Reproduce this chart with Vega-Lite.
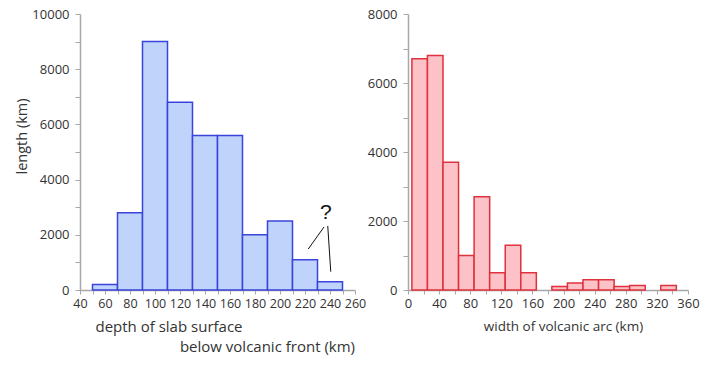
{
  "$schema": "https://vega.github.io/schema/vega-lite/v6.json",
  "background": "white",
  "padding": {"left": 14, "top": 8, "right": 5, "bottom": 5},
  "config": {
    "font": "Open Sans",
    "view": {"stroke": null},
    "axis": {
      "grid": false,
      "domainColor": "#a8a8a8",
      "domainWidth": 1.5,
      "tickColor": "#a8a8a8",
      "tickWidth": 1,
      "labelFont": "Open Sans",
      "labelFontSize": 13,
      "labelColor": "#333333",
      "titleFont": "Open Sans",
      "titleFontWeight": "normal",
      "titleColor": "#333333"
    }
  },
  "datasets": {
    "depth": [
      {"d0": 50, "d1": 70, "length": 200},
      {"d0": 70, "d1": 90, "length": 2800},
      {"d0": 90, "d1": 110, "length": 9000},
      {"d0": 110, "d1": 130, "length": 6800},
      {"d0": 130, "d1": 150, "length": 5600},
      {"d0": 150, "d1": 170, "length": 5600},
      {"d0": 170, "d1": 190, "length": 2000},
      {"d0": 190, "d1": 210, "length": 2500},
      {"d0": 210, "d1": 230, "length": 1100},
      {"d0": 230, "d1": 250, "length": 300}
    ],
    "pointers": [
      {"d0": 235.2, "length": 2283, "d1": 222.6, "length2": 1486},
      {"d0": 238.2, "length": 2319, "d1": 240.6, "length2": 663}
    ],
    "qmark": [{"d0": 236.6, "length": 2800, "label": "?"}],
    "width": [
      {"w0": 5, "w1": 25, "length": 6700},
      {"w0": 25, "w1": 45, "length": 6800},
      {"w0": 45, "w1": 65, "length": 3700},
      {"w0": 65, "w1": 85, "length": 1000},
      {"w0": 85, "w1": 105, "length": 2700},
      {"w0": 105, "w1": 125, "length": 500},
      {"w0": 125, "w1": 145, "length": 1300},
      {"w0": 145, "w1": 165, "length": 500},
      {"w0": 185, "w1": 205, "length": 100},
      {"w0": 205, "w1": 225, "length": 200},
      {"w0": 225, "w1": 245, "length": 300},
      {"w0": 245, "w1": 265, "length": 300},
      {"w0": 265, "w1": 285, "length": 100},
      {"w0": 285, "w1": 305, "length": 130},
      {"w0": 325, "w1": 345, "length": 130}
    ]
  },
  "hconcat": [
    {
      "width": 275,
      "height": 276,
      "title": {
        "text": "below volcanic front (km)",
        "orient": "bottom",
        "anchor": "end",
        "frame": "group",
        "font": "Open Sans",
        "fontSize": 15,
        "fontWeight": "normal",
        "color": "#333333",
        "offset": 6
      },
      "encoding": {
        "x": {
          "field": "d0", "type": "quantitative",
          "scale": {"domain": [40, 260], "nice": false, "zero": false},
          "axis": {
            "values": [40, 50, 60, 70, 80, 90, 100, 110, 120, 130, 140, 150, 160, 170, 180, 190, 200, 210, 220, 230, 240, 250, 260],
            "labelExpr": "datum.value % 20 == 0 ? datum.label : ''",
            "labelOverlap": false,
            "tickSize": 4,
            "labelPadding": 3,
            "labelFlush": false,
            "labelFontSize": 12.5,
            "title": "depth of slab surface",
            "titleFontSize": 15,
            "titleAnchor": "start",
            "titleAlign": "left",
            "titleBaseline": "middle",
            "titleX": 15,
            "titleY": 36
          }
        },
        "y": {
          "field": "length", "type": "quantitative",
          "scale": {"domain": [0, 10000], "nice": false},
          "axis": {
            "values": [0, 1000, 2000, 3000, 4000, 5000, 6000, 7000, 8000, 9000, 10000],
            "labelExpr": "datum.value % 2000 == 0 ? datum.label : ''",
            "labelOverlap": false,
            "format": "d",
            "tickSize": 5,
            "labelPadding": 6,
            "labelFlush": false,
            "title": "length (km)",
            "titleFontSize": 14.5,
            "titleAngle": 270,
            "titleAlign": "center",
            "titleBaseline": "middle",
            "titleX": -58,
            "titleY": 122
          }
        }
      },
      "layer": [
        {
          "data": {"name": "depth"},
          "mark": {"type": "bar", "fill": "#bfd3fb", "stroke": "#3a44dc", "strokeWidth": 1.5},
          "encoding": {
            "x2": {"field": "d1"},
            "y2": {"datum": 0}
          }
        },
        {
          "data": {"name": "pointers"},
          "mark": {"type": "rule", "color": "#111111", "strokeWidth": 1},
          "encoding": {
            "x2": {"field": "d1"},
            "y2": {"field": "length2"}
          }
        },
        {
          "data": {"name": "qmark"},
          "mark": {"type": "text", "font": "Liberation Sans", "fontSize": 21, "color": "#111111", "baseline": "middle", "align": "center"},
          "encoding": {
            "text": {"field": "label"}
          }
        }
      ]
    },
    {
      "width": 280,
      "height": 276,
      "data": {"name": "width"},
      "mark": {"type": "bar", "fill": "#fdc2c7", "stroke": "#e0323e", "strokeWidth": 1.5},
      "encoding": {
        "x": {
          "field": "w0", "type": "quantitative",
          "scale": {"domain": [0, 360], "nice": false},
          "axis": {
            "values": [0, 20, 40, 60, 80, 100, 120, 140, 160, 180, 200, 220, 240, 260, 280, 300, 320, 340, 360],
            "labelExpr": "datum.value % 40 == 0 ? datum.label : ''",
            "labelOverlap": false,
            "tickSize": 4,
            "labelPadding": 3,
            "labelFlush": false,
            "title": "width of volcanic arc (km)",
            "titleFontSize": 13.5,
            "titleAlign": "center",
            "titleBaseline": "middle",
            "titleX": 155,
            "titleY": 36
          }
        },
        "x2": {"field": "w1"},
        "y": {
          "field": "length", "type": "quantitative",
          "scale": {"domain": [0, 8000], "nice": false},
          "axis": {
            "values": [0, 1000, 2000, 3000, 4000, 5000, 6000, 7000, 8000],
            "labelExpr": "datum.value % 2000 == 0 ? datum.label : ''",
            "labelOverlap": false,
            "format": "d",
            "tickSize": 5,
            "labelPadding": 6,
            "labelFlush": false,
            "title": null
          }
        },
        "y2": {"datum": 0}
      }
    }
  ],
  "spacing": 53,
  "bounds": "flush"
}
